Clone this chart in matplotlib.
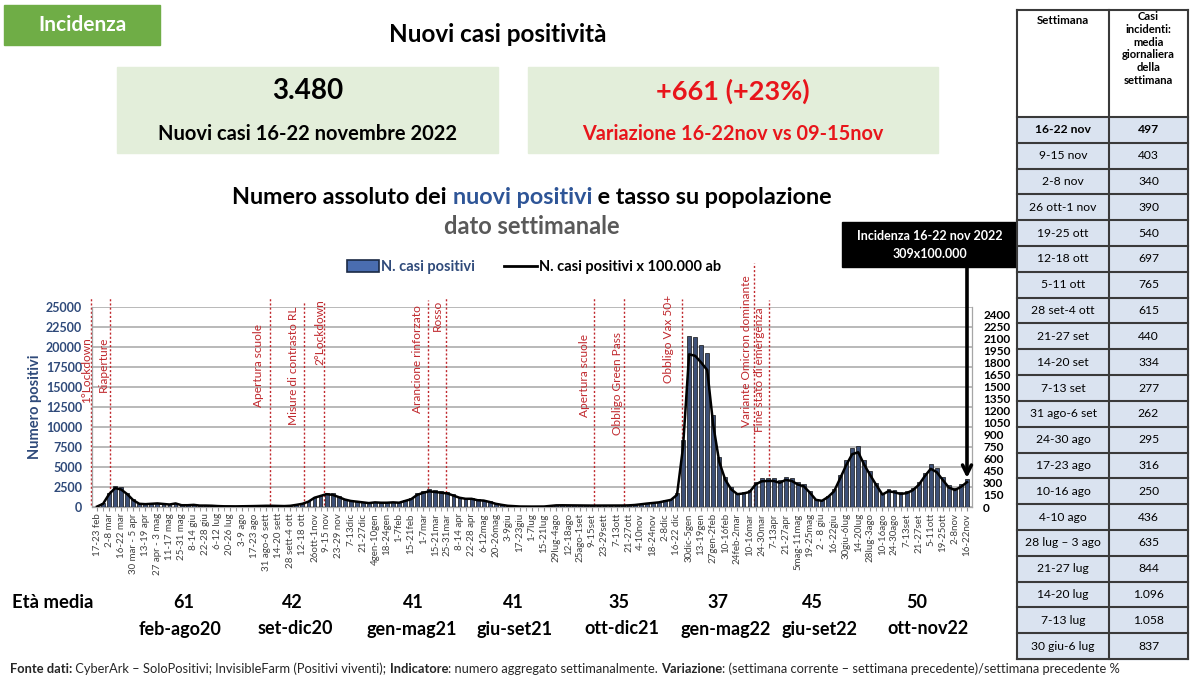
#%%
import numpy as np
import matplotlib.pyplot as plt
from matplotlib.patches import Rectangle, Patch
from matplotlib.lines import Line2D

plt.rcParams['font.family'] = ['Lato', 'DejaVu Sans']

#%%
# Dati letti dal grafico
# etichette asse x (una ogni due settimane)
settimane = ['17-23 feb', '2-8 mar', '16-22 mar', '30 mar - 5 apr', '13-19 apr',
             '27 apr - 3 mag', '11-17 mag', '25-31 mag', '8-14 giu', '22-28 giu',
             '6-12 lug', '20-26 lug', '3-9 ago', '17-23 ago', '31 ago-6 sett',
             '14-20 sett', '28 sett-4 ott', '12-18 ott', '26ott-1nov', '9-15 nov',
             '23-29 nov', '7-13dic', '21-27dic', '4gen-10gen', '18-24gen',
             '1-7feb', '15-21feb', '1-7mar', '15-21mar', '25-31mar',
             '8-14 apr', '22-28 apr', '6-12mag', '20-26mag', '3-9giu',
             '17-23giu', '1-7lug', '15-21lug', '29lug-4ago', '12-18ago',
             '25ago-1set', '9-15set', '23-29sett', '7-13ott', '21-27ott',
             '4-10nov', '18-24nov', '2-8dic', '16-22 dic', '30dic-5gen',
             '13-19gen', '27gen-2feb', '10-16feb', '24feb-2mar', '10-16mar',
             '24-30mar', '7-13apr', '21-27apr', '5mag-11mag', '19-25mag',
             '2 - 8 giu', '16-22giu', '30giu-6lug', '14-20lug', '28lug-3ago',
             '10-16ago', '24-30ago', '7-13set', '21-27set', '5-11ott',
             '19-25ott', '2-8nov', '16-22nov']

# nuovi casi settimanali (feb 2020 -> nov 2022)
casi = [60, 450, 1800, 2650, 2450, 1800, 950, 450, 400, 450,
        500, 420, 350, 500, 250, 250, 300, 200, 200, 180,
        130, 100, 90, 90, 100, 110, 130, 150, 170, 170,
        150, 130, 170, 300, 450, 750, 1300, 1550, 1800, 1700,
        1400, 1050, 850, 750, 650, 550, 650, 600, 600, 650,
        600, 850, 1100, 1700, 2000, 2200, 2100, 2000, 1900, 1600,
        1300, 1150, 1150, 950, 900, 700, 450, 300, 170, 120,
        70, 60, 60, 60, 70, 150, 230, 240, 230, 220,
        220, 210, 200, 200, 190, 190, 200, 210, 230, 280,
        380, 480, 560, 650, 820, 1000, 1700, 8400, 21400, 21200,
        20250, 19200, 11500, 6300, 3800, 2450, 1800, 1900, 2100, 3150,
        3600, 3650, 3650, 3400, 3800, 3650, 3150, 2900, 2000, 1000,
        870, 1400, 2200, 4000, 5859, 7406, 7672, 5908, 4445, 3052,
        1750, 2212, 2065, 1834, 1939, 2338, 3080, 4305, 5355, 4879,
        3780, 2730, 2380, 2819, 3480]

popolazione = 1126000  # 3480 casi = 309 x 100.000
tasso = np.array(casi) / popolazione * 100000

eventi = ['1°Lockdown', 'Riaperture', 'Apertura scuole', 'Misure di contrasto RL',
          '2°Lockdown', 'Arancione rinforzato', 'Rosso', 'Apertura scuole',
          'Obbligo Green Pass', 'Obbligo Vax 50+', 'Variante Omicron dominante',
          'Fine stato di emergenza']
settimana_evento = [-0.95, 2.2, 28.7, 34.3, 37.5, 54.8, 57.7, 82.2, 87.3, 96.8, 108.8, 111.2]

# tabella a destra
tab_settimane = ['16-22 nov', '9-15 nov', '2-8 nov', '26 ott-1 nov', '19-25 ott',
                 '12-18 ott', '5-11 ott', '28 set-4 ott', '21-27 set', '14-20 set',
                 '7-13 set', '31 ago-6 set', '24-30 ago', '17-23 ago', '10-16 ago',
                 '4-10 ago', '28 lug – 3 ago', '21-27 lug', '14-20 lug', '7-13 lug',
                 '30 giu-6 lug']
tab_media = [497, 403, 340, 390, 540, 697, 765, 615, 440, 334, 277, 262, 295,
             316, 250, 436, 635, 844, 1096, 1058, 837]

eta_media = [61, 42, 41, 41, 35, 37, 45, 50]
periodi = ['feb-ago20', 'set-dic20', 'gen-mag21', 'giu-set21', 'ott-dic21',
           'gen-mag22', 'giu-set22', 'ott-nov22']

#%%
# layout (pixel)
W, H = 1200, 693
ax_l, ax_r, ax_t, ax_b = 92, 972, 307, 507
ev_dx = [-5, -7, -12, -11, -4, -11, -8, -9, -7, -13, -8, -9]
ev_text_top = [337, 337, 324, 306, 299, 305, 300, 334, 332, 295, 275, 307]
ev_line_top = [297, 297, 298, 302, 301, 300, 298, 297, 298, 299, 263, 300]
eta_x = [184, 292, 413, 513, 619, 718, 812, 917]
periodi_x = [180, 295, 412, 515, 622, 726, 820, 928]

blu = '#2F4A7A'
rosso = '#E8151B'

fig = plt.figure(figsize=(W / 100, H / 100), dpi=100)
bg = fig.add_axes([0, 0, 1, 1])
bg.set_xlim(0, W)
bg.set_ylim(H, 0)
bg.axis('off')

# intestazione
bg.add_patch(Rectangle((4, 5), 156, 40, color='#6FAD46'))
bg.text(82, 25, 'Incidenza', color='white', fontsize=15, fontweight='bold', ha='center', va='center')
bg.text(498, 34, 'Nuovi casi positività', fontsize=17.5, fontweight='bold', ha='center', va='center')

bg.add_patch(Rectangle((117, 67), 381, 86, color='#E3EEDA'))
bg.add_patch(Rectangle((528, 67), 410, 86, color='#E3EEDA'))
bg.text(308, 91, f"{casi[-1]:,}".replace(',', '.'), fontsize=20, fontweight='bold', ha='center', va='center')
bg.text(308, 134, 'Nuovi casi 16-22 novembre 2022', fontsize=14.5, fontweight='bold', ha='center', va='center')
var = casi[-1] - casi[-2]
bg.text(733, 91, f"+{var} (+{var / casi[-2] * 100:.0f}%)", fontsize=19.5, fontweight='bold',
        color=rosso, ha='center', va='center')
bg.text(733, 134, 'Variazione 16-22nov vs 09-15nov', fontsize=14.3, fontweight='bold',
        color=rosso, ha='center', va='center')

fig.canvas.draw()
rend = fig.canvas.get_renderer()


def riga_mista(pezzi, x0, y, size, center=False):
    testi = []
    x = x0
    for txt, peso, col in pezzi:
        t = bg.text(x, y, txt, fontsize=size, fontweight=peso, color=col, ha='left', va='center')
        x += t.get_window_extent(renderer=rend).width
        testi.append(t)
    if center:
        shift = (x - x0) / 2
        for t in testi:
            px, py = t.get_position()
            t.set_position((px - shift, py))


riga_mista([('Numero assoluto dei ', 'bold', 'black'),
            ('nuovi positivi', 'bold', '#2E5597'),
            (' e tasso su popolazione', 'bold', 'black')], 532, 197, 16.8, center=True)
bg.text(532, 227, 'dato settimanale', fontsize=17, fontweight='bold', color='#595959',
        ha='center', va='center')

#%%
# grafico
ax = fig.add_axes([ax_l / W, 1 - ax_b / H, (ax_r - ax_l) / W, (ax_b - ax_t) / H])
ax.patch.set_alpha(0)
x = np.arange(len(casi))
ax.bar(x, casi, width=0.64, color='#3D5077', edgecolor='#111111', linewidth=0.5, zorder=3)
ax.set_xlim(-0.83, len(casi) - 1 + 0.83)
ax.set_ylim(0, 25000)
ax.set_yticks(np.arange(0, 25001, 2500))
ax.grid(axis='y', color='#A6A6A6', lw=1.1)
ax.set_axisbelow(True)
ax.set_xticks(x[::2])
ax.set_xticks(x, minor=True)
ax.set_xticklabels(settimane, rotation=90, fontsize=7, color='#404040')
ax.tick_params(axis='x', which='both', length=3, color='#8C8C8C', pad=1.5)
ax.tick_params(axis='y', length=0, pad=7, labelsize=9, labelcolor=blu)
for lab in ax.get_yticklabels():
    lab.set_fontweight('bold')
ax.set_ylabel('Numero positivi', fontsize=10.5, fontweight='bold', color=blu)
ax.yaxis.set_label_coords(-(ax_l - 42) / (ax_r - ax_l), 0.5)
ax.spines['top'].set_visible(False)
for s in ['left', 'right', 'bottom']:
    ax.spines[s].set_color('#A6A6A6')
    ax.spines[s].set_linewidth(0.9)

ax2 = ax.twinx()
ax2.plot(x, tasso, color='black', lw=1.8, zorder=4)
ax2.set_ylim(0, 2490)
ax2.set_yticks(np.arange(0, 2401, 150))
ax2.tick_params(axis='y', length=0, pad=8, labelsize=8.5)
for lab in ax2.get_yticklabels():
    lab.set_fontweight('bold')
for s in ax2.spines.values():
    s.set_visible(False)

# eventi
trans = ax.get_xaxis_transform()
h_ax = ax_b - ax_t
for ev, xe, dx, tt, lt in zip(eventi, settimana_evento, ev_dx, ev_text_top, ev_line_top):
    ax.plot([xe, xe], [0.01, (ax_b - lt) / h_ax], transform=trans, color='#C0282D',
            ls=(0, (1.5, 1.5)), lw=1, clip_on=False, zorder=2)
    ax.annotate(ev, xy=(xe, (ax_b - tt) / h_ax), xycoords=trans, xytext=(dx, 0),
                textcoords='offset pixels', rotation=90, ha='center', va='top',
                fontsize=8.6, color='#C0282D', annotation_clip=False)

# legenda
handles = [Patch(facecolor='#4A6DB0', edgecolor='#1B2A45', lw=1.2),
           Line2D([], [], color='black', lw=2)]
leg = fig.legend(handles, ['N. casi positivi', 'N. casi positivi x 100.000 ab'], ncol=2,
                 loc='center', bbox_to_anchor=(534 / W, 1 - 267 / H), frameon=False,
                 prop=dict(weight='bold', size=10.5), handlelength=2.2, handleheight=0.8,
                 handletextpad=0.15, columnspacing=2.0)
leg.get_texts()[0].set_color(blu)

# box incidenza + freccia
bg.add_patch(Rectangle((842, 222), 176, 45, color='black'))
bg.text(930, 236, 'Incidenza 16-22 nov 2022', color='white', fontsize=9, fontweight='bold',
        ha='center', va='center')
bg.text(930, 254, f"{tasso[-1]:.0f}x100.000", color='white', fontsize=9, fontweight='bold',
        ha='center', va='center')
ax.annotate('', xy=(x[-1], casi[-1] + 150), xycoords='data', xytext=(x[-1], 30000),
            textcoords='data', annotation_clip=False,
            arrowprops=dict(arrowstyle='->', lw=2.6, color='black', mutation_scale=16,
                            shrinkA=0, shrinkB=0))

#%%
# tabella
tx0, tx1, tx2 = 1017, 1109, 1188
ty0, ty1 = 10, 117
rh = (659 - ty1) / len(tab_settimane)
bordo = '#3A3A3A'
for k, (s, m) in enumerate(zip(tab_settimane, tab_media)):
    y0 = ty1 + k * rh
    bg.add_patch(Rectangle((tx0, y0), tx2 - tx0, rh, color='#DAE3F0', zorder=1))
    peso = 'bold' if k == 0 else 'normal'
    bg.text((tx0 + tx1) / 2, y0 + rh / 2, s, fontsize=8.7, fontweight=peso, ha='center', va='center')
    bg.text((tx1 + tx2) / 2, y0 + rh / 2, f"{m:,}".replace(',', '.'), fontsize=8.7,
            fontweight=peso, ha='center', va='center')
for k in range(len(tab_settimane) + 1):
    y = ty1 + k * rh
    bg.plot([tx0, tx2], [y, y], color=bordo, lw=1.5, zorder=2)
bg.plot([tx0, tx2], [ty0, ty0], color=bordo, lw=1.5, zorder=2)
for xx in [tx0, tx1, tx2]:
    bg.plot([xx, xx], [ty0, 659], color=bordo, lw=1.5, zorder=2)
bg.text((tx0 + tx1) / 2, 15, 'Settimana', fontsize=8.3, fontweight='bold', ha='center', va='top')
bg.text((tx1 + tx2) / 2, 11, 'Casi\nincidenti:\nmedia\ngiornaliera\ndella\nsettimana',
        fontsize=8.1, fontweight='bold', ha='center', va='top', linespacing=1.2)

#%%
# età media
bg.text(12, 603, 'Età media', fontsize=13.3, fontweight='bold', ha='left', va='center')
for e, xe in zip(eta_media, eta_x):
    bg.text(xe, 603, str(e), fontsize=13, fontweight='bold', ha='center', va='center')
for p, xp in zip(periodi, periodi_x):
    bg.text(xp, 629, p, fontsize=13, fontweight='bold', ha='center', va='center')

riga_mista([('Fonte dati:', 'bold', '#262626'),
            (' CyberArk – SoloPositivi; InvisibleFarm (Positivi viventi); ', 'normal', '#262626'),
            ('Indicatore', 'bold', '#262626'),
            (': numero aggregato settimanalmente. ', 'normal', '#262626'),
            ('Variazione', 'bold', '#262626'),
            (': (settimana corrente – settimana precedente)/settimana precedente %', 'normal', '#262626')],
           10, 669, 9.3)

fig.savefig('out.png', dpi=100)
